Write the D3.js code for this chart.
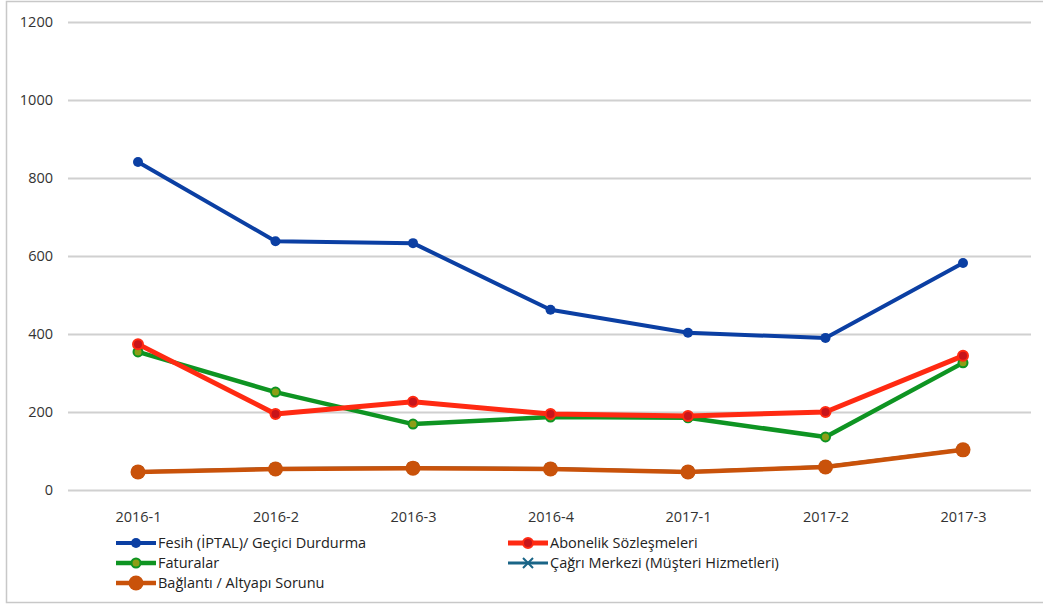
<!DOCTYPE html>
<html><head><meta charset="utf-8">
<script src="https://cdn.jsdelivr.net/npm/d3@7"></script>
<style>body{margin:0;background:#fff}text{font-family:"Open Sans","Noto Sans",sans-serif}</style>
</head><body><svg id="c" width="1043" height="605"></svg>
<script>
const categories = ["2016-1","2016-2","2016-3","2016-4","2017-1","2017-2","2017-3"];
const fesih = [841, 638, 633, 462, 403, 390, 582];
const abonelik = [374, 195, 226, 195, 190, 200, 344];
const faturalar = [354, 251, 169, 187, 185, 136, 326];
const cagri = [47, 55, 57, 55, 47, 60, 104];
const baglanti = [46, 54, 56, 54, 46, 59, 103];
const yTicks = [0, 200, 400, 600, 800, 1000, 1200];

const series = [
  {name:"Fesih (İPTAL)/ Geçici Durdurma", values:fesih, color:"#0B3FA3", fill:"#0B3FA3", r:5, w:4, marker:"circle", lx:116, ly:543},
  {name:"Abonelik Sözleşmeleri", values:abonelik, color:"#FF2A12", fill:"#C8141A", r:5, w:5, marker:"circle", lx:508, ly:543},
  {name:"Faturalar", values:faturalar, color:"#0E9422", fill:"#8C9E16", r:4.5, w:4.5, marker:"circle", lx:116, ly:563},
  {name:"Çağrı Merkezi (Müşteri Hizmetleri)", values:cagri, color:"#1A6587", fill:"#1A6587", r:5, w:3, marker:"x", lx:508, ly:563},
  {name:"Bağlantı / Altyapı Sorunu", values:baglanti, color:"#C9520A", fill:"#C9520A", r:7.5, w:4.5, marker:"circle", lx:116, ly:583}
];

const svg = d3.select("#c");
svg.append("rect").attr("x",6.5).attr("y",1.5).attr("width",1060).attr("height",601).attr("fill","none").attr("stroke","#c8c8c8").attr("stroke-width",1.5);

const x = d3.scalePoint().domain(categories).range([138, 963]);
const y = d3.scaleLinear().domain([0,1200]).range([490, 22]);

const yAxis = svg.append("g").attr("transform","translate(68,0)")
  .call(d3.axisLeft(y).tickValues(yTicks).tickSize(-963).tickPadding(15).tickFormat(d3.format("d")));
yAxis.select(".domain").remove();
yAxis.selectAll(".tick line").attr("stroke","#d0d0d0").attr("stroke-width",1.8);
yAxis.selectAll(".tick text").attr("fill","#333").style("font-size","14.5px");

const xAxis = svg.append("g").attr("transform","translate(0,490)")
  .call(d3.axisBottom(x).tickSize(0).tickPadding(22));
xAxis.select(".domain").remove();
xAxis.selectAll(".tick text").attr("fill","#333").style("font-size","14.5px");

const line = d3.line().x((d,i)=>x(categories[i])).y(d=>y(d));

function drawMarker(g, s, cx, cy){
  if(s.marker==="x"){
    const r=s.r;
    g.append("path").attr("d",`M${cx-r},${cy-r}L${cx+r},${cy+r}M${cx-r},${cy+r}L${cx+r},${cy-r}`)
      .attr("stroke",s.color).attr("stroke-width",2);
  } else {
    g.append("circle").attr("cx",cx).attr("cy",cy).attr("r",s.r)
      .attr("fill",s.fill).attr("stroke",s.color).attr("stroke-width",s.fill===s.color?0:2);
  }
}

const order = [3,0,2,1,4];
order.forEach(k=>{
  const s = series[k];
  const g = svg.append("g");
  g.append("path").datum(s.values).attr("d",line).attr("fill","none")
    .attr("stroke",s.color).attr("stroke-width",s.w).attr("stroke-linejoin","round").attr("stroke-linecap","round");
  s.values.forEach((v,i)=>drawMarker(g,s,x(categories[i]),y(v)));
});

series.forEach(s=>{
  const g = svg.append("g");
  g.append("line").attr("x1",s.lx).attr("x2",s.lx+40).attr("y1",s.ly).attr("y2",s.ly)
    .attr("stroke",s.color).attr("stroke-width",s.w);
  drawMarker(g,s,s.lx+20,s.ly);
  g.append("text").attr("x",s.lx+42).attr("y",s.ly).attr("dy","0.35em")
    .attr("fill","#222").style("font-size","14.5px").text(s.name);
});
</script></body></html>
